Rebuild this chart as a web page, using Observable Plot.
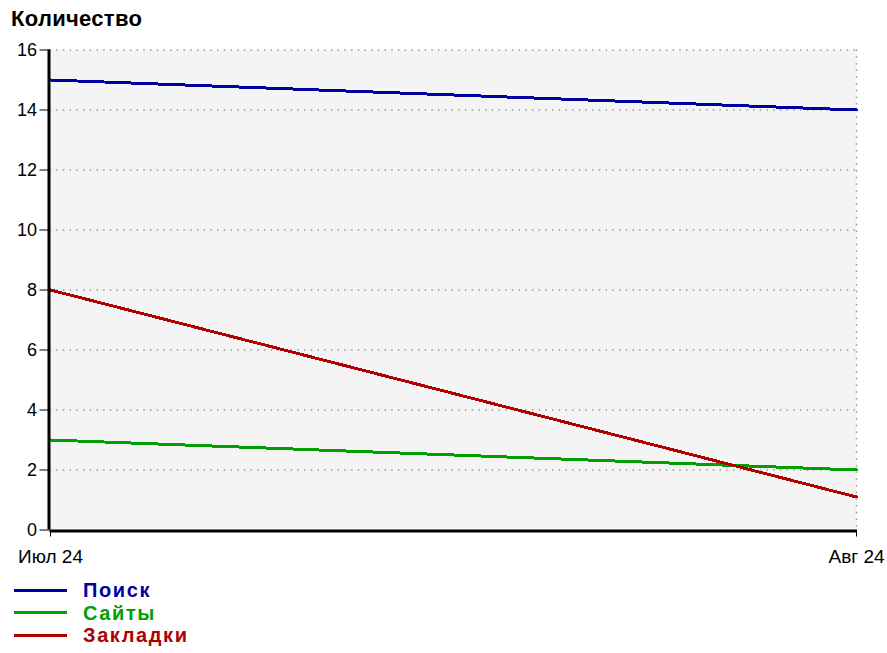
<!DOCTYPE html>
<html>
<head>
<meta charset="utf-8">
<script src="https://cdn.jsdelivr.net/npm/d3@7"></script>
<script src="https://cdn.jsdelivr.net/npm/@observablehq/plot@0.6"></script>
<style>
  html, body { margin: 0; padding: 0; background: #fff; }
  body { width: 887px; height: 653px; overflow: hidden; font-family: "Liberation Sans", Arial, sans-serif; }
  #title { height: 40px; box-sizing: border-box; padding: 8px 0 0 11px; font: bold 22px/22px "Liberation Sans", Arial, sans-serif; letter-spacing: 0.3px; color: #000; }
  #chart svg { display: block; }
  .row { display: flex; align-items: center; height: 22.5px; }
  .sw { margin-left: 14px; width: 53px; height: 3px; }
  .lab { margin-left: 16px; font: bold 20px/20px "Liberation Sans", Arial, sans-serif; letter-spacing: 1.6px; }
</style>
</head>
<body>
<div id="title">Количество</div>
<div id="chart"></div>
<div id="legend"></div>
<script>
const categories = ["Июл 24", "Авг 24"];
const seriesNames = ["Поиск", "Сайты", "Закладки"];
const seriesColors = ["#0000a0", "#00a000", "#b00000"];
const poisk = [15, 14];
const saity = [3, 2];
const zakladki = [8, 1.1];
const yTicks = [0, 2, 4, 6, 8, 10, 12, 14, 16];

const values = [poisk, saity, zakladki];
const data = seriesNames.flatMap((s, i) =>
  categories.map((c, j) => ({series: s, month: c, value: values[i][j]}))
);

const chart = Plot.plot({
  width: 887,
  height: 539,
  marginTop: 9.5,
  marginLeft: 49.5,
  marginRight: 31,
  marginBottom: 49.5,
  style: {fontFamily: "'Liberation Sans', Arial, sans-serif", background: "#fff", color: "#000"},
  x: {type: "point", domain: categories, padding: 0},
  y: {domain: [0, 16]},
  color: {domain: seriesNames, range: seriesColors},
  marks: [
    Plot.frame({fill: "#f4f4f4", stroke: null}),
    Plot.ruleY(yTicks.filter(d => d > 0), {stroke: "#999", strokeWidth: 1.5, strokeDasharray: "1.5,5.2", strokeOpacity: 1}),
    Plot.ruleX([categories[categories.length - 1]], {stroke: "#999", strokeWidth: 1.5, strokeDasharray: "1.5,5.2"}),
    Plot.axisY({ticks: yTicks, tickSize: 10, tickPadding: 3, fontSize: 18, label: null, tickFormat: d => String(d)}),
    Plot.axisX({tickSize: 7, tickPadding: 12, fontSize: 19, label: null}),
    Plot.line(data, {x: "month", y: "value", z: "series", stroke: "series", strokeWidth: 3, shapeRendering: "crispEdges"}),
    Plot.ruleX([categories[0]], {stroke: "#000", strokeWidth: 3, dx: -1.5}),
    Plot.ruleY([0], {stroke: "#000", strokeWidth: 3, dy: 1})
  ]
});
document.getElementById("chart").appendChild(chart);

const legend = document.getElementById("legend");
seriesNames.forEach((s, i) => {
  const row = document.createElement("div");
  row.className = "row";
  const sw = document.createElement("div");
  sw.className = "sw";
  sw.style.background = seriesColors[i];
  const lab = document.createElement("div");
  lab.className = "lab";
  lab.style.color = seriesColors[i];
  lab.textContent = s;
  row.appendChild(sw);
  row.appendChild(lab);
  legend.appendChild(row);
});
</script>
</body>
</html>
